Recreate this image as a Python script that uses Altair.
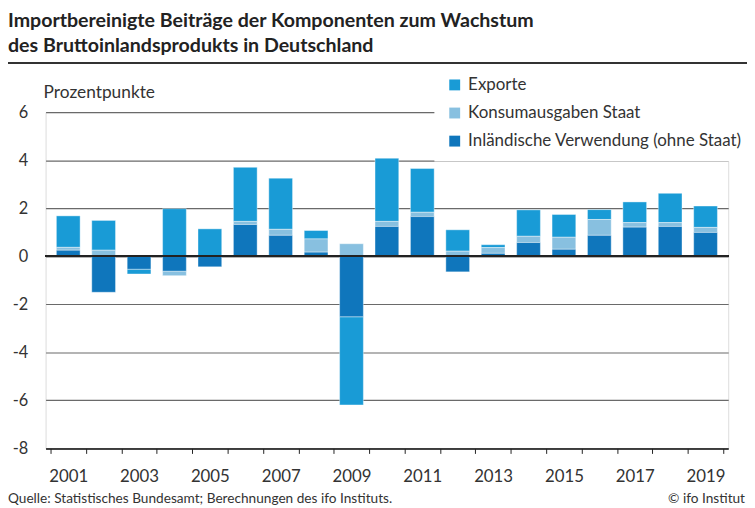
import altair as alt
import pandas as pd

# ---- data ----
YEARS = list(range(2001, 2020))
INLAND = [0.25, -1.50, -0.54, -0.62, -0.44, 1.32, 0.87, 0.17, -2.52, 1.24,
          1.65, -0.65, 0.12, 0.57, 0.29, 0.87, 1.21, 1.24, 0.99]
KONSUM = [0.12, 0.25, 0.03, -0.19, 0.02, 0.13, 0.25, 0.55, 0.52, 0.21,
          0.18, 0.21, 0.24, 0.26, 0.50, 0.66, 0.19, 0.16, 0.21]
EXPORTE = [1.31, 1.24, -0.20, 1.98, 1.12, 2.25, 2.13, 0.35, -3.67, 2.63,
           1.82, 0.89, 0.12, 1.10, 0.95, 0.41, 0.86, 1.22, 0.89]

SERIES = ["Exporte", "Konsumausgaben Staat", "Inländische Verwendung (ohne Staat)"]
COLORS = ["#199bd6", "#88c0e0", "#0f76bc"]
STACK_ORDER = {"Inländische Verwendung (ohne Staat)": 0, "Konsumausgaben Staat": 1, "Exporte": 2}

Y_TICKS = [-8, -6, -4, -2, 0, 2, 4, 6]

TITLE_1 = "Importbereinigte Beiträge der Komponenten zum Wachstum"
TITLE_2 = "des Bruttoinlandsprodukts in Deutschland"
Y_UNIT = "Prozentpunkte"
SOURCE = "Quelle: Statistisches Bundesamt; Berechnungen des ifo Instituts."
COPY = "© ifo Institut"

FONT = "Lato"
TXT = "#333333"

rows = []
for i, yr in enumerate(YEARS):
    for name, vals in zip(SERIES, [EXPORTE, KONSUM, INLAND]):
        rows.append({"Jahr": yr, "Komponente": name, "Wert": vals[i],
                     "ord": STACK_ORDER[name]})
df = pd.DataFrame(rows)

W, H = 690, 340
tick_vals = [y - 0.5 for y in YEARS] + [YEARS[-1] + 0.5]
x_vals = tick_vals + YEARS

x_scale = alt.Scale(domain=[YEARS[0] - 0.5, YEARS[-1] + 0.5], nice=False, zero=False)
y_scale = alt.Scale(domain=[Y_TICKS[0], Y_TICKS[-1]], nice=False)

bars = alt.Chart(df).mark_bar(size=24, stroke="#ffffff", strokeWidth=1, strokeOpacity=0.4).encode(
    x=alt.X("Jahr:Q", scale=x_scale, title=None,
            axis=alt.Axis(values=x_vals, grid=False, labelOverlap=False, labelFlush=False,
                          labelBound=False,
                          labelExpr="(datum.value % 1 === 0 && datum.value % 2 === 1) ? '' + datum.value : ''",
                          tickOpacity={"condition": {"test": "datum.value % 1 !== 0", "value": 1}, "value": 0},
                          tickSize=5, tickColor="#222222", tickWidth=1,
                          domainColor="#222222", domainWidth=1.5,
                          labelFontSize=17, labelColor=TXT, labelFont=FONT, labelPadding=15)),
    y=alt.Y("sum(Wert):Q", scale=y_scale, title=None, stack="zero",
            axis=alt.Axis(values=Y_TICKS, grid=True, ticks=False, domain=False,
                          labelExpr="'' + datum.value", labelPadding=18,
                          labelFontSize=16.5, labelColor=TXT, labelFont=FONT,
                          gridColor="#6a6a6a", gridWidth=1.2)),
    color=alt.Color("Komponente:N", scale=alt.Scale(domain=SERIES, range=COLORS),
                    legend=alt.Legend(orient="none", legendX=393, legendY=-48, title=None,
                                      fillColor="white", padding=12, symbolType="square",
                                      symbolSize=121, symbolStrokeWidth=0, symbolOpacity=1,
                                      labelFontSize=17.1, labelColor=TXT, labelFont=FONT,
                                      labelOffset=5, rowPadding=10.4, labelLimit=500)),
    order=alt.Order("ord:Q"),
)

zero = alt.Chart(df).mark_rule(color="#222222", strokeWidth=1.5).encode(y=alt.datum(0))


def label(text, x, y, size, weight="normal", align="left", color=TXT):
    return alt.Chart(pd.DataFrame({"t": [text]})).mark_text(
        align=align, baseline="middle", fontSize=size, fontWeight=weight,
        font=FONT, color=color).encode(x=alt.value(x), y=alt.value(y), text="t:N")


t1 = label(TITLE_1, -38, -92.5, 19.8, "bold", color="#222222")
t2 = label(TITLE_2, -38, -66.5, 19.8, "bold", color="#222222")
unit = label(Y_UNIT, -2, -19.5, 17.5)
src = label(SOURCE, -38, 391, 13.8)
cp = label(COPY, 707, 391, 13.8, align="right")

title_rule = alt.Chart(pd.DataFrame({"a": [0]})).mark_rule(color="#333333", strokeWidth=2).encode(
    x=alt.value(-38), x2=alt.value(709), y=alt.value(-49.5))

chart = alt.layer(bars, zero, t1, t2, unit, src, cp, title_rule).properties(
    width=W, height=H,
    autosize=alt.AutoSizeParams(type="none"),
    padding={"left": 38, "top": 102.5, "right": 19, "bottom": 57.5},
    background="white",
).configure_view(stroke=None).configure(font=FONT)

chart.save("out.html", embed_options={"renderer": "svg", "actions": False})
